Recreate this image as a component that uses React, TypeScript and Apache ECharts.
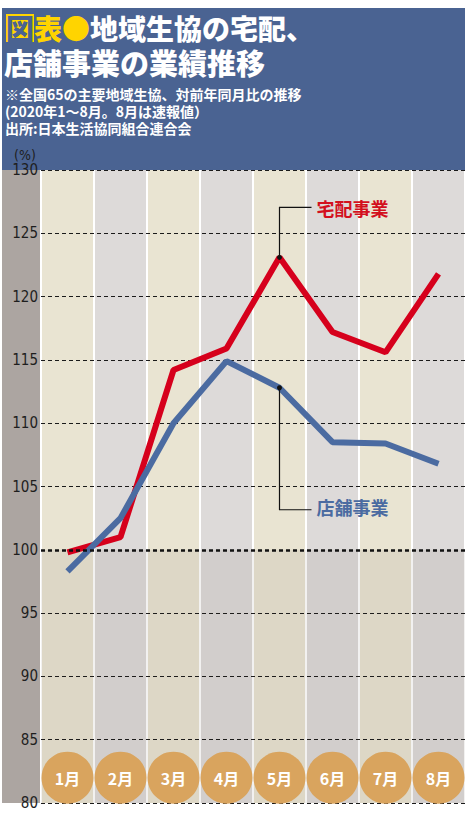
import React, { useEffect, useRef } from 'react';
import * as echarts from 'echarts';

const months = ['1月', '2月', '3月', '4月', '5月', '6月', '7月', '8月'];
const homeDelivery = [99.8, 101.0, 114.2, 115.9, 123.1, 117.2, 115.6, 121.8];
const storeBusiness = [98.3, 102.5, 110.0, 114.9, 112.8, 108.5, 108.4, 106.8];
const seriesNames = ['宅配事業', '店舗事業'];
const badgeLevel = 82;

const titleLine2 = '店舗事業の業績推移';
const noteLines = [
  '※全国65の主要地域生協、対前年同月比の推移',
  '(2020年1～8月。8月は速報値）',
  '出所:日本生活協同組合連合会',
];

const CJK = "'Noto Sans CJK JP', 'Noto Sans', sans-serif";
const NUM = "'DejaVu Sans Condensed', 'Liberation Sans Narrow', 'Roboto', sans-serif";
const RED = '#d6001c';
const BLUE = '#4b6ba1';
const HEADER = '#4a6392';

const App: React.FC = () => {
  const chartRef = useRef<HTMLDivElement>(null);

  useEffect(() => {
    if (!chartRef.current) return;
    const chart = echarts.init(chartRef.current, undefined, { renderer: 'svg' });

    chart.setOption({
      animation: false,
      grid: { left: 41, right: 8, top: 170, bottom: 18 },
      xAxis: {
        type: 'category',
        data: months,
        boundaryGap: true,
        z: 0,
        axisLine: { show: false },
        axisTick: { show: false },
        axisLabel: { show: false },
        splitLine: { show: true, lineStyle: { color: '#ffffff', width: 2 } },
        splitArea: { show: true, areaStyle: { color: ['#e9e4d2', '#dddad9'] } },
      },
      yAxis: {
        type: 'value',
        min: 80,
        max: 130,
        interval: 5,
        z: 1,
        axisLine: { show: false },
        axisTick: { show: false },
        axisLabel: { color: '#1e1e1e', fontSize: 15, fontFamily: NUM, margin: 3 },
        splitLine: { show: true, lineStyle: { color: '#1a1a1a', width: 1, type: [4, 3] } },
      },
      series: [
        {
          name: seriesNames[0],
          type: 'line',
          data: homeDelivery,
          symbol: 'none',
          lineStyle: { color: RED, width: 6 },
          z: 3,
          markArea: {
            silent: true,
            itemStyle: { color: 'rgba(70,55,40,0.07)' },
            data: [[{ yAxis: 80 }, { yAxis: 100 }]],
          },
          markLine: {
            silent: true,
            symbol: 'none',
            label: { show: false },
            lineStyle: { color: '#111', width: 2.5, type: [4, 3] },
            data: [{ yAxis: 100 }],
          },
        },
        {
          name: seriesNames[1],
          type: 'line',
          data: storeBusiness,
          symbol: 'none',
          lineStyle: { color: BLUE, width: 6 },
          z: 4,
        },
        {
          type: 'scatter',
          data: months.map((m) => ({ name: m, value: [m, badgeLevel] })),
          symbolSize: 52,
          itemStyle: { color: '#d9a45e', opacity: 1 },
          label: {
            show: true,
            position: 'inside',
            formatter: (p: any) => p.name,
            color: '#ffffff',
            fontSize: 16,
            fontWeight: 'bold',
            fontFamily: CJK,
          },
          z: 5,
        },
      ],
    });

    const red = chart.convertToPixel({ xAxisIndex: 0, yAxisIndex: 0 }, [months[4], homeDelivery[4]]);
    const blue = chart.convertToPixel({ xAxisIndex: 0, yAxisIndex: 0 }, [months[4], storeBusiness[4]]);
    const redTop = red[1] - 50;
    const blueBottom = blue[1] + 122;

    chart.setOption({
      graphic: {
        elements: [
          { type: 'rect', z: -10, shape: { x: 2, y: 8, width: 463, height: 162 }, style: { fill: HEADER } },
          { type: 'rect', z: -10, shape: { x: 2, y: 170, width: 39, height: 633 }, style: { fill: '#aca5a1' } },
          { type: 'rect', z: 0, shape: { x: 6, y: 14, width: 28, height: 28 }, style: { fill: '#ffd400' } },
          {
            type: 'text',
            x: 6,
            y: 28,
            style: {
              text: '{a|図}{b|表}{b|●}{c|地域生協の宅配、}',
              verticalAlign: 'middle',
              rich: {
                a: { fill: HEADER, fontSize: 28, lineHeight: 28, fontWeight: 900, fontFamily: CJK },
                b: { fill: '#ffd400', fontSize: 28, lineHeight: 28, fontWeight: 900, fontFamily: CJK },
                c: { fill: '#ffffff', fontSize: 28, lineHeight: 28, fontWeight: 900, fontFamily: CJK },
              },
            },
          },
          {
            type: 'text',
            x: 4,
            y: 62,
            style: {
              text: titleLine2,
              fill: '#ffffff',
              fontSize: 29,
              lineHeight: 28,
              fontWeight: 900,
              fontFamily: CJK,
              verticalAlign: 'middle',
            },
          },
          ...noteLines.map((t, i) => ({
            type: 'text',
            x: 5,
            y: 93.5 + i * 17,
            style: {
              text: t,
              fill: '#ffffff',
              fontSize: 14,
              lineHeight: 15,
              fontWeight: 'bold',
              fontFamily: CJK,
              verticalAlign: 'middle',
            },
          })),
          {
            type: 'text',
            x: 25,
            y: 155,
            style: { text: '(%)', fill: '#1e1e1e', fontSize: 14, fontFamily: NUM, align: 'center', verticalAlign: 'middle' },
          },
          {
            type: 'polyline',
            z: 10,
            shape: { points: [[red[0], red[1]], [red[0], redTop], [red[0] + 32, redTop]] },
            style: { stroke: '#111', lineWidth: 1.2, fill: 'none' },
          },
          { type: 'circle', z: 11, shape: { cx: red[0], cy: red[1], r: 2.5 }, style: { fill: '#111' } },
          {
            type: 'text',
            z: 10,
            x: red[0] + 37,
            y: redTop + 1,
            style: { text: seriesNames[0], fill: '#d3101e', fontSize: 18, fontWeight: 'bold', fontFamily: CJK, verticalAlign: 'middle' },
          },
          {
            type: 'polyline',
            z: 10,
            shape: { points: [[blue[0], blue[1]], [blue[0], blueBottom], [blue[0] + 32, blueBottom]] },
            style: { stroke: '#111', lineWidth: 1.2, fill: 'none' },
          },
          { type: 'circle', z: 11, shape: { cx: blue[0], cy: blue[1], r: 2.5 }, style: { fill: '#111' } },
          {
            type: 'text',
            z: 10,
            x: blue[0] + 37,
            y: blueBottom - 3,
            style: { text: seriesNames[1], fill: BLUE, fontSize: 18, fontWeight: 'bold', fontFamily: CJK, verticalAlign: 'middle' },
          },
        ],
      },
    });

    return () => {
      chart.dispose();
    };
  }, []);

  return (
    <div
      ref={chartRef}
      style={{ position: 'absolute', left: 0, top: 0, width: '473px', height: '821px', background: '#ffffff' }}
    />
  );
};

export default App;
